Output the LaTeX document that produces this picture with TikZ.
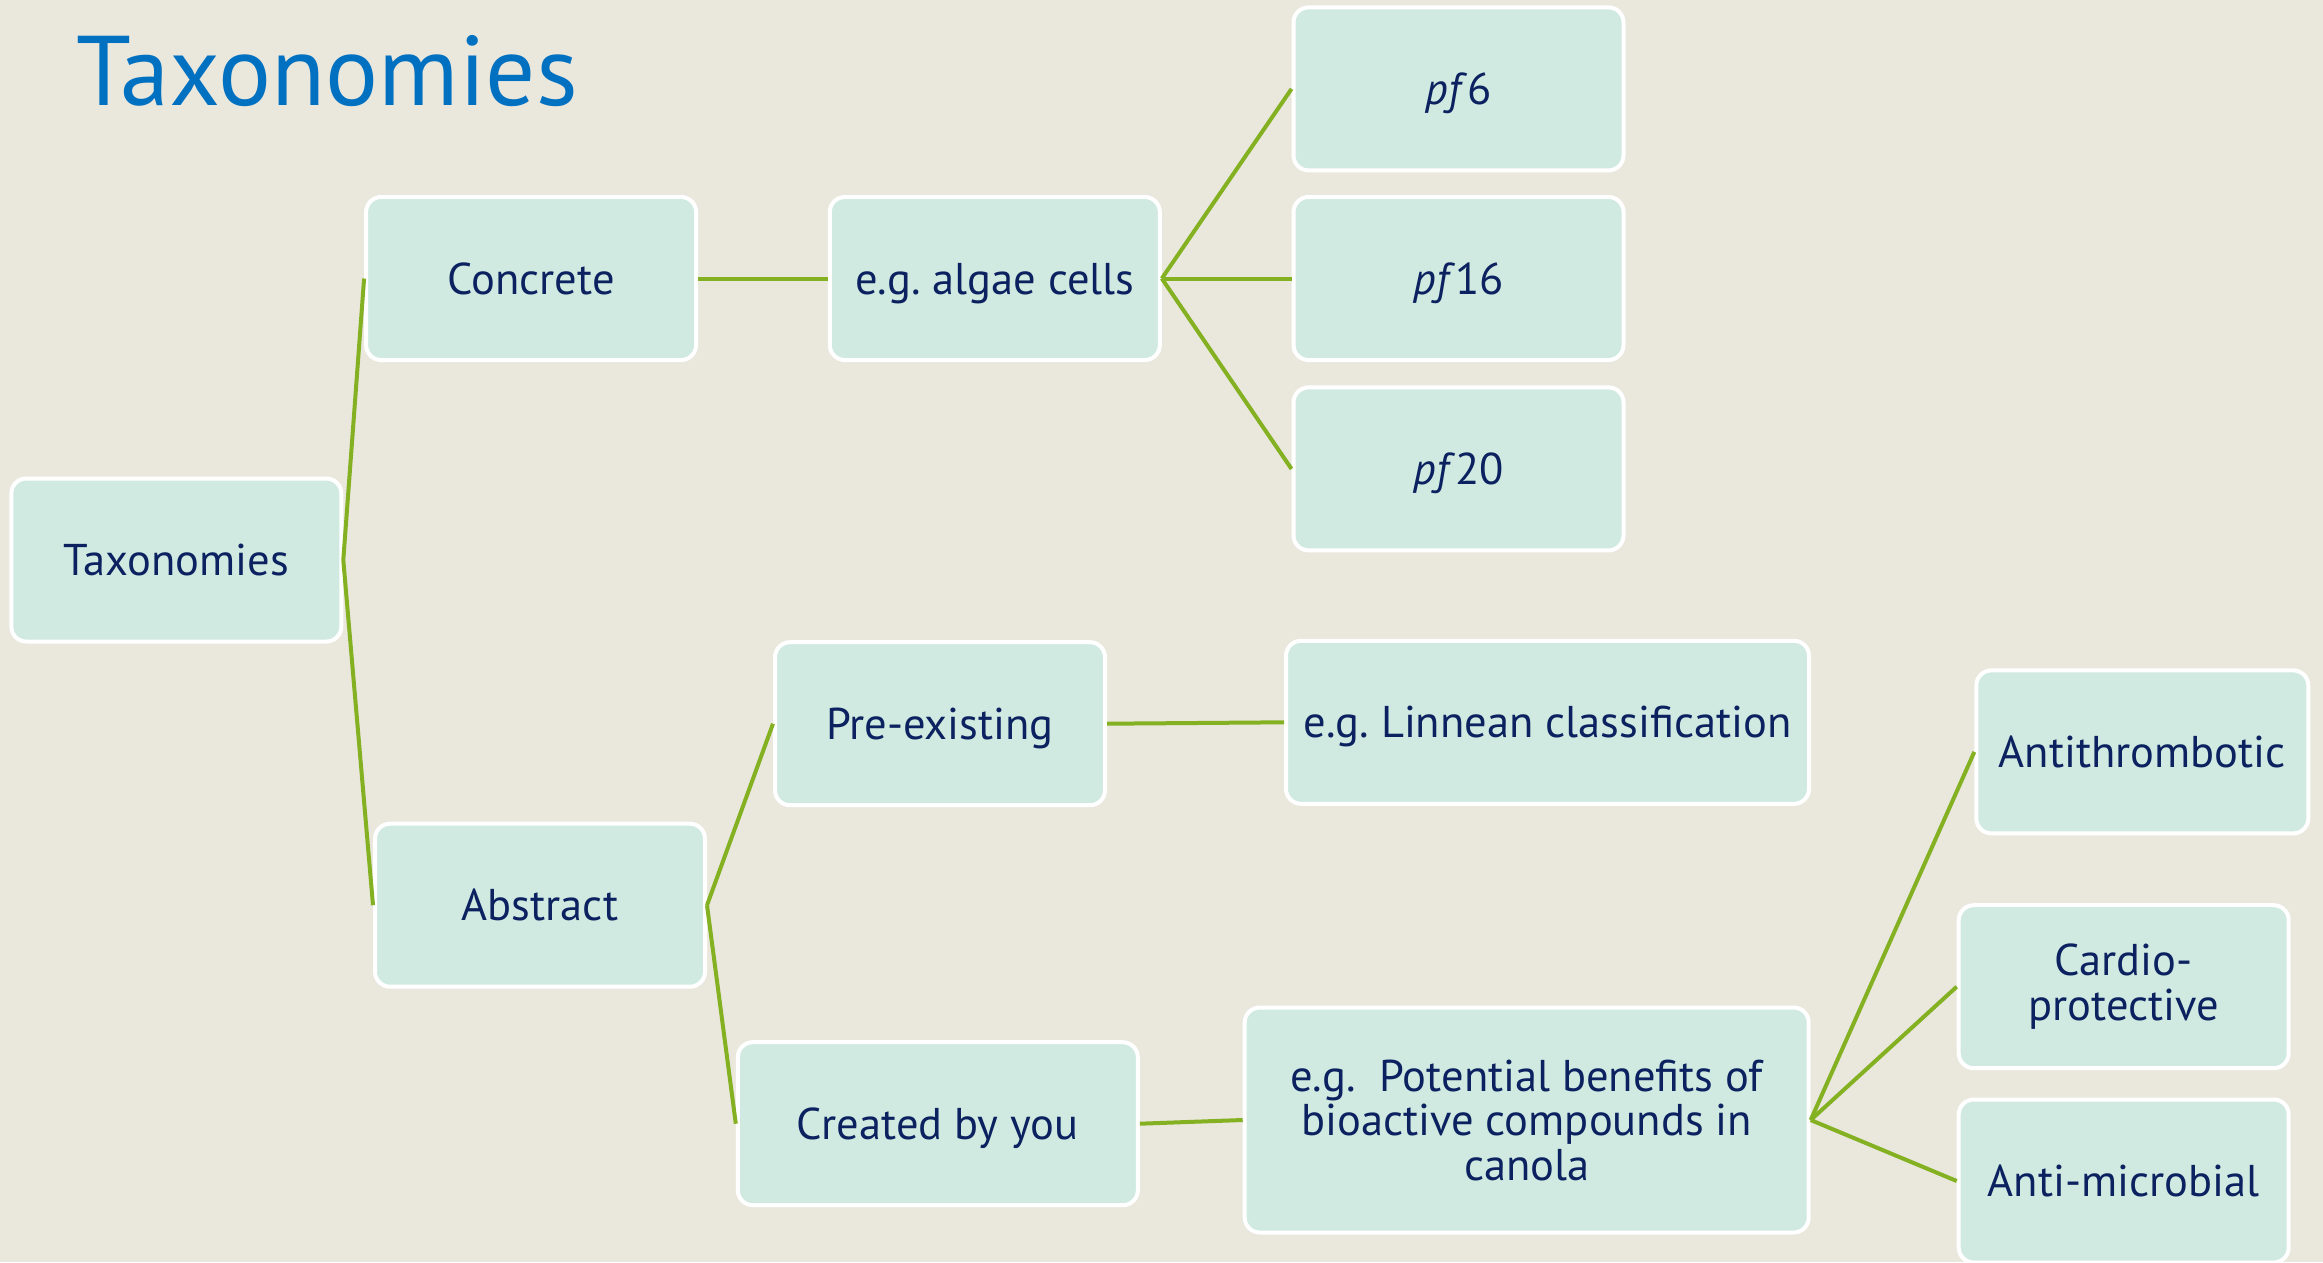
\documentclass[tikz,border=0pt]{standalone}
\usepackage{fontspec}
\setmainfont{PT Sans}
\definecolor{pagebg}{RGB}{234,231,221}
\definecolor{boxfill}{RGB}{208,234,225}
\definecolor{navy}{RGB}{12,34,96}
\definecolor{linkgreen}{RGB}{132,177,33}
\definecolor{titleblue}{RGB}{0,112,192}
\begin{document}
\frenchspacing
\begin{tikzpicture}[x=1pt,y=-1pt,
  tbox/.style={draw=white, line width=4pt, fill=boxfill, rounded corners=15pt,
    text=navy, align=center, inner sep=0pt, minimum width=330pt, minimum height=163pt,
    font=\fontsize{44.5}{44.5}\selectfont},
  oneline/.style={tbox, text height=36pt, text depth=5pt},
  link/.style={draw=linkgreen, line width=4pt}]
  % page
  \fill[pagebg] (0,0) rectangle (2323,1262);
  \useasboundingbox (0,0) rectangle (2323,1262);

  % heading
  \node[anchor=base west, inner sep=0pt, text=titleblue,
        font=\fontsize{99}{100}\selectfont] (title) at (76,105) {Taxonomies};

  % tree nodes
  \node[oneline] (root)      at (176.3,560)    {Taxonomies};
  \node[oneline] (concrete)  at (531.1,278.5)  {Concrete};
  \node[oneline] (abstract)  at (540,905.2)    {Abstract};
  \node[oneline] (algae)     at (994.8,278.5)  {e.g.\ algae cells};
  \node[oneline] (pfsix)     at (1458.5,88.9)  {\textit{pf}6};
  \node[oneline] (pfsixteen) at (1458.5,278.5) {\textit{pf}16};
  \node[oneline] (pftwenty)  at (1458.5,468.9) {\textit{pf}20};
  \node[oneline] (pre)       at (940,723.7)    {Pre-existing};
  \node[oneline, minimum width=400pt] (created) at (937.8,1123.7) {Created by you};
  \node[oneline, minimum width=523pt] (linnean) at (1547.5,722.3) {e.g.\ Linnean classification};
  \node[tbox, minimum width=564pt, minimum height=225pt] (benefits) at (1526.7,1120)
        {e.g.\ \ Potential benefits of\\bioactive compounds in\\canola};
  \node[oneline, minimum width=332pt] (antithr) at (2142.3,751.9) {Antithrombotic};
  \node[tbox] (cardio)    at (2123.7,986.7) {Cardio-\\protective};
  \node[oneline] (micro)     at (2123.7,1181)  {Anti-microbial};

  % connectors
  \draw[link] (root.east) -- (concrete.west);
  \draw[link] (root.east) -- (abstract.west);
  \draw[link] (concrete.east) -- (algae.west);
  \draw[link] (algae.east) -- (pfsix.west);
  \draw[link] (algae.east) -- (pfsixteen.west);
  \draw[link] (algae.east) -- (pftwenty.west);
  \draw[link] (abstract.east) -- (pre.west);
  \draw[link] (abstract.east) -- (created.west);
  \draw[link] (pre.east) -- (linnean.west);
  \draw[link] (created.east) -- (benefits.west);
  \draw[link] (benefits.east) -- (antithr.west);
  \draw[link] (benefits.east) -- (cardio.west);
  \draw[link] (benefits.east) -- (micro.west);
\end{tikzpicture}
\end{document}
